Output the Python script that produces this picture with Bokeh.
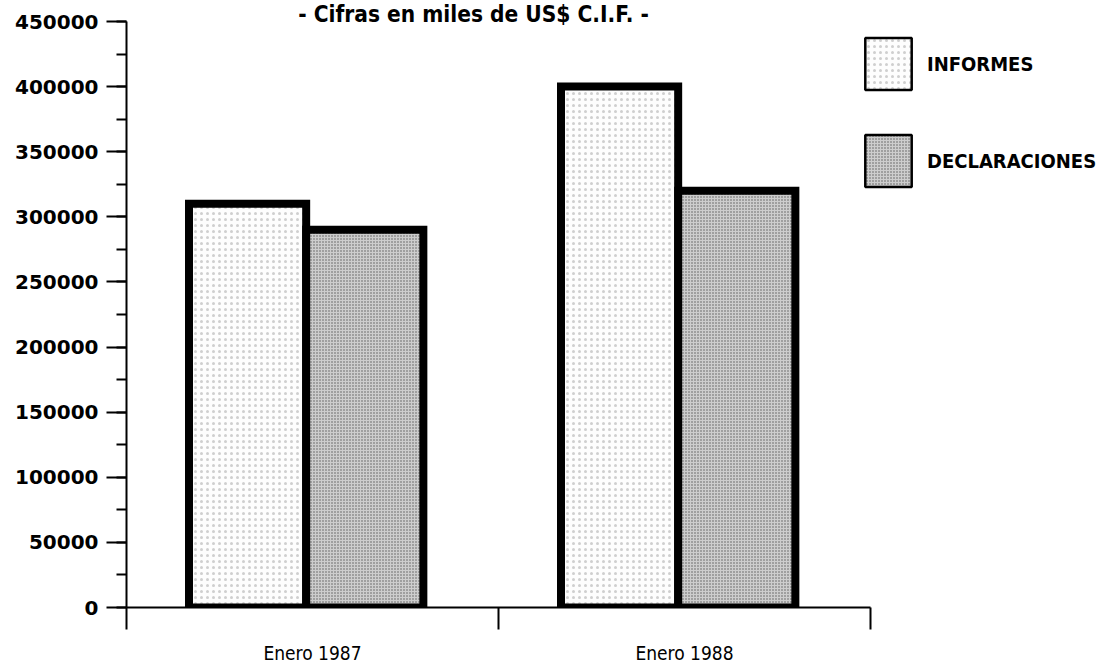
import numpy as np
from bokeh.plotting import figure
from bokeh.models import (ColumnDataSource, FixedTicker, Range1d, Legend,
                          LegendItem, Label, NumeralTickFormatter)
from bokeh.embed import file_html
from bokeh.resources import INLINE

# ---- data ----
categories = ["Enero 1987", "Enero 1988"]
series_names = ["INFORMES", "DECLARACIONES"]
informes = [310000, 400000]
declaraciones = [290000, 320000]
y_ticks = [0, 50000, 100000, 150000, 200000, 250000, 300000, 350000, 400000, 450000]
y_minor = [0, 25000, 50000, 75000, 100000, 125000, 150000, 175000, 200000,
           225000, 250000, 275000, 300000, 325000, 350000, 375000, 400000,
           425000, 450000]
subtitle = "- Cifras en miles de US$ C.I.F. -"

# ---- styling ----
INF_STYLE = dict(fill_color="#fdfdfd", hatch_pattern="dot", hatch_color="#cfcfcf",
                 hatch_scale=6, hatch_weight=1)
DEC_STYLE = dict(fill_color="#cdcdcd", hatch_pattern="dot", hatch_color="#5a5a5a",
                 hatch_scale=3, hatch_weight=1)

Y_MAX = 450000
PX_PER_CAT = 372          # pixels per category slot
PX_AXIS_SPAN = 586        # pixels from 0 to Y_MAX
FRAME_W = 972
FRAME_H = 607
centers = np.arange(len(categories)) + 0.5
bar_w = 0.315
src = ColumnDataSource(dict(
    x_inf=centers - 0.1745,
    x_dec=centers + 0.1405,
    inf=informes,
    dec=declaraciones,
))

p = figure(frame_width=FRAME_W, frame_height=FRAME_H,
           min_border_left=126, min_border_right=9,
           min_border_top=0, min_border_bottom=60,
           x_range=Range1d(0, FRAME_W / PX_PER_CAT),
           y_range=Range1d(0, Y_MAX * FRAME_H / PX_AXIS_SPAN),
           output_backend="svg", toolbar_location=None)
p.outline_line_color = None
p.grid.visible = False
p.background_fill_color = "white"
p.border_fill_color = "white"

# thin-bordered copies underneath (used as legend swatches, hidden by the real bars)
leg_inf = p.vbar(x="x_inf", top="inf", bottom=0, width=bar_w, source=src,
                 line_color="black", line_width=2.5, **INF_STYLE)
leg_dec = p.vbar(x="x_dec", top="dec", bottom=0, width=bar_w, source=src,
                 line_color="black", line_width=2.5, **DEC_STYLE)

p.vbar(x="x_inf", top="inf", bottom=0, width=bar_w, source=src,
       line_color="black", line_width=8, line_join="miter", **INF_STYLE)
p.vbar(x="x_dec", top="dec", bottom=0, width=bar_w, source=src,
       line_color="black", line_width=8, line_join="miter", **DEC_STYLE)

legend = Legend(items=[LegendItem(label=series_names[0], renderers=[leg_inf]),
                       LegendItem(label=series_names[1], renderers=[leg_dec])],
                location=(733, 414), glyph_width=58, glyph_height=65, spacing=32,
                padding=0, margin=0, border_line_color=None, background_fill_alpha=0,
                label_standoff=10, label_text_font="DejaVu Sans Condensed",
                label_text_font_style="bold", label_text_font_size="20px",
                label_text_color="black")
p.add_layout(legend)

# y axis
ya = p.yaxis[0]
ya.bounds = (0, Y_MAX)
ya.ticker = FixedTicker(ticks=y_ticks, minor_ticks=y_minor)
ya.formatter = NumeralTickFormatter(format="0")
ya.major_tick_in = 0
ya.major_tick_out = 20
ya.minor_tick_in = 0
ya.minor_tick_out = 10
ya.axis_line_width = 2
ya.major_tick_line_width = 2
ya.minor_tick_line_width = 2
ya.major_label_standoff = 8
ya.major_label_text_font = "DejaVu Sans"
ya.major_label_text_font_style = "bold"
ya.major_label_text_font_size = "20px"
ya.major_label_text_color = "black"

# x axis: labels at category centres, ticks at category boundaries
xa = p.xaxis[0]
xa.bounds = (0, len(categories))
xa.ticker = FixedTicker(ticks=[float(c) for c in centers],
                        minor_ticks=[float(i) for i in range(len(categories) + 1)])
xa.major_label_overrides = {float(c): cat for c, cat in zip(centers, categories)}
xa.major_tick_in = 0
xa.major_tick_out = 0
xa.minor_tick_in = 0
xa.minor_tick_out = 22
xa.axis_line_width = 2
xa.minor_tick_line_width = 2
xa.major_label_standoff = 12
xa.major_label_text_font = "DejaVu Sans Condensed"
xa.major_label_text_font_size = "19px"
xa.major_label_text_color = "black"

p.add_layout(Label(x=0.933, y=Y_MAX, y_offset=8, text=subtitle, text_align="center",
                   text_baseline="alphabetic", text_font="DejaVu Sans Condensed",
                   text_font_size="22.5px", text_font_style="bold", text_color="black"))

open("out.html", "w").write(file_html(p, INLINE))
